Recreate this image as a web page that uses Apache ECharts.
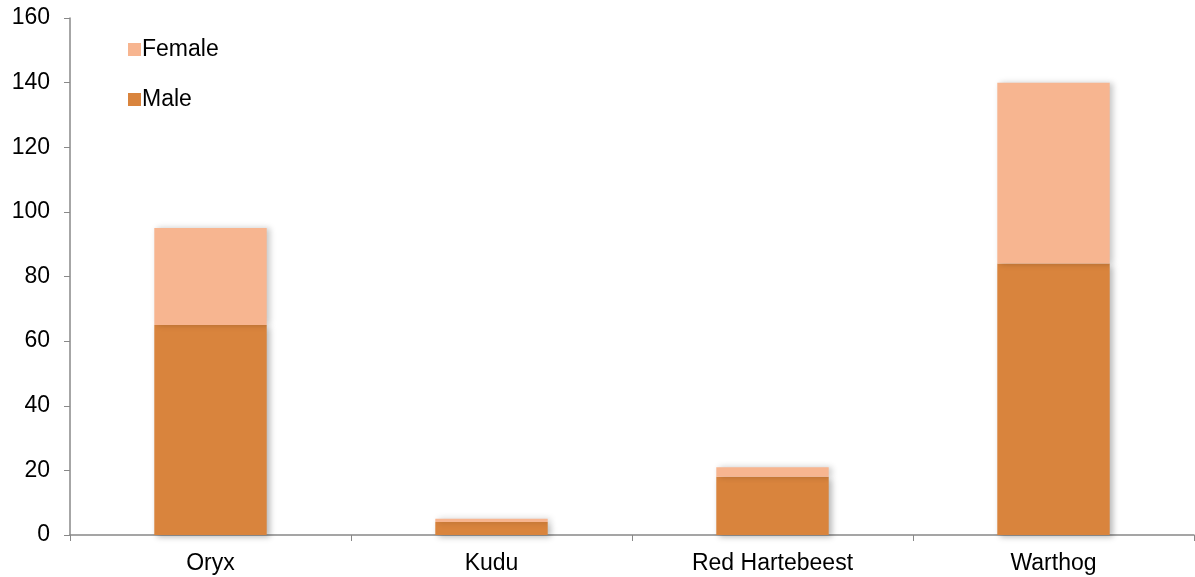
<!DOCTYPE html>
<html>
<head>
<meta charset="utf-8">
<script src="https://cdn.jsdelivr.net/npm/echarts@6/dist/echarts.min.js"></script>
<style>html,body{margin:0;padding:0;background:#fff;}#c{width:1195px;height:577px;}</style>
</head>
<body>
<div id="c"></div>
<script>
const categories = ['Oryx', 'Kudu', 'Red Hartebeest', 'Warthog'];
const maleValues = [65, 4, 18, 84];
const femaleValues = [30, 1, 3, 56];
const yTicks = [0, 20, 40, 60, 80, 100, 120, 140, 160];

const chart = echarts.init(document.getElementById('c'));
const font = 'Liberation Sans, Arial, sans-serif';
chart.setOption({
  animation: false,
  backgroundColor: '#fff',
  grid: { left: 70, right: 1, top: 18, bottom: 42 },
  legend: {
    orient: 'vertical', left: 123, top: 33, itemGap: 27,
    itemWidth: 13, itemHeight: 13, icon: 'rect',
    data: ['Female', 'Male'],
    textStyle: { fontFamily: font, fontSize: 23, color: '#000', padding: [0,0,0,-4] }
  },
  xAxis: {
    type: 'category', data: categories,
    axisLine: { lineStyle: { color: '#888', width: 1.5 } },
    axisTick: { show: true, alignWithLabel: false, length: 6, lineStyle: { color: '#888' } },
    axisLabel: { color: '#000', fontFamily: font, fontSize: 23, margin: 17 }
  },
  yAxis: {
    type: 'value', min: 0, max: 160, interval: 20,
    splitLine: { show: false },
    axisLine: { show: true, lineStyle: { color: '#888', width: 1.5 } },
    axisTick: { show: true, length: 6, lineStyle: { color: '#888' } },
    axisLabel: { color: '#000', fontFamily: font, fontSize: 23, margin: 20,
      formatter: v => yTicks.includes(v) ? String(v) : '' }
  },
  series: [
    { name: 'Male', type: 'bar', stack: 's', data: maleValues, barWidth: '40%',
      itemStyle: { color: '#D9843D', shadowColor: 'rgba(0,0,0,0.28)', shadowBlur: 6, shadowOffsetX: 3, shadowOffsetY: 2 } },
    { name: 'Female', type: 'bar', stack: 's', data: femaleValues, barWidth: '40%',
      itemStyle: { color: '#F7B590', shadowColor: 'rgba(0,0,0,0.22)', shadowBlur: 6, shadowOffsetX: 3, shadowOffsetY: 0 } }
  ]
});
</script>
</body>
</html>
